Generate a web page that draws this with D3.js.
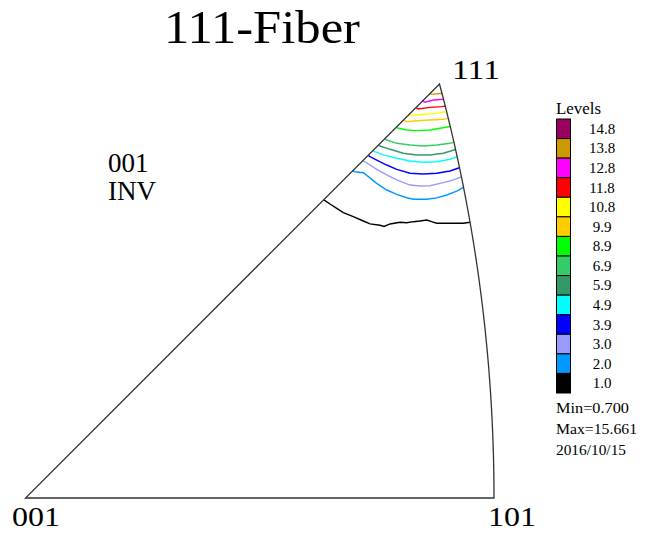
<!DOCTYPE html>
<html><head><meta charset="utf-8">
<script src="https://cdn.jsdelivr.net/npm/d3@7"></script>
<style>body{margin:0;background:#fff} svg{display:block}</style>
</head><body>
<script>
// ---- data ----
const title = "111-Fiber";
const poleLabels = ["001", "101", "111"];
const projectionLabel = ["001", "INV"];
const levels = [14.8, 13.8, 12.8, 11.8, 10.8, 9.9, 8.9, 6.9, 5.9, 4.9, 3.9, 3.0, 2.0, 1.0];
const levelColors = ["#99005f", "#cc9900", "#ff00ff", "#ff0000", "#ffff00", "#ffcc00", "#00ff00",
                     "#33cc66", "#339966", "#00ffff", "#0000ff", "#9999ff", "#0099ff", "#000000"];
const stats = ["Min=0.700", "Max=15.661", "2016/10/15"];

// contour lines, stereographic coordinates [X, Y] of the standard triangle
const c1_0 = [[0.2604,0.2661],[0.2648,0.2629],[0.2692,0.2599],[0.2752,0.2561],[0.2810,0.2523],[0.2898,0.2487],
  [0.2987,0.2449],[0.3046,0.2423],[0.3134,0.2411],[0.3170,0.2401],[0.3223,0.2423],[0.3311,0.2438],[0.3370,0.2434],
  [0.3429,0.2443],[0.3488,0.2449],[0.3547,0.2458],[0.3591,0.2443],[0.3636,0.2429],[0.3753,0.2429],[0.3871,0.2429],
  [0.3930,0.2438],[0.4001,0.2440]];
const c2_0 = [[0.2869,0.2900],[0.2913,0.2885],[0.2987,0.2876],[0.3031,0.2841],[0.3105,0.2782],[0.3194,0.2723],
  [0.3282,0.2685],[0.3370,0.2655],[0.3429,0.2641],[0.3547,0.2641],[0.3636,0.2653],[0.3724,0.2679],[0.3813,0.2714],
  [0.3895,0.2759]];
const c3_0 = [[0.2958,0.2997],[0.3002,0.2973],[0.3046,0.2944],[0.3105,0.2906],[0.3194,0.2856],[0.3282,0.2812],
  [0.3400,0.2767],[0.3488,0.2759],[0.3576,0.2761],[0.3694,0.2788],[0.3783,0.2812],[0.3886,0.2851]];
const c3_9 = [[0.3011,0.3042],[0.3046,0.3018],[0.3105,0.2988],[0.3194,0.2944],[0.3282,0.2906],[0.3400,0.2871],
  [0.3517,0.2865],[0.3636,0.2871],[0.3753,0.2891],[0.3868,0.2931]];
const c4_9 = [[0.3055,0.3081],[0.3090,0.3062],[0.3164,0.3033],[0.3282,0.3004],[0.3400,0.2980],[0.3517,0.2968],
  [0.3636,0.2973],[0.3753,0.2995],[0.3851,0.3028]];
const c5_9 = [[0.3099,0.3130],[0.3134,0.3112],[0.3223,0.3083],[0.3340,0.3048],[0.3459,0.3033],[0.3576,0.3033],
  [0.3694,0.3048],[0.3833,0.3090]];
const c6_9 = [[0.3161,0.3183],[0.3194,0.3165],[0.3282,0.3136],[0.3400,0.3121],[0.3517,0.3112],[0.3636,0.3121],
  [0.3753,0.3136],[0.3824,0.3157]];
const c8_9 = [[0.3267,0.3285],[0.3296,0.3269],[0.3370,0.3254],[0.3459,0.3248],[0.3576,0.3254],[0.3665,0.3269],
  [0.3780,0.3289]];
const c9_9 = [[0.3338,0.3347],[0.3370,0.3327],[0.3459,0.3336],[0.3576,0.3342],[0.3694,0.3348],[0.3771,0.3364]];
const c10_8 = [[0.3382,0.3400],[0.3415,0.3378],[0.3517,0.3393],[0.3636,0.3401],[0.3753,0.3422]];
const c11_8 = [[0.3435,0.3462],[0.3473,0.3439],[0.3576,0.3454],[0.3680,0.3460],[0.3753,0.3470]];
const c12_8 = [[0.3497,0.3515],[0.3532,0.3499],[0.3606,0.3519],[0.3694,0.3525],[0.3745,0.3532]];
const c13_8 = [[0.3559,0.3585],[0.3591,0.3569],[0.3689,0.3578],[0.3736,0.3581]];

const contours = [
  {level: 1.0, pts: c1_0}, {level: 2.0, pts: c2_0}, {level: 3.0, pts: c3_0}, {level: 3.9, pts: c3_9},
  {level: 4.9, pts: c4_9}, {level: 5.9, pts: c5_9}, {level: 6.9, pts: c6_9}, {level: 8.9, pts: c8_9},
  {level: 9.9, pts: c9_9}, {level: 10.8, pts: c10_8}, {level: 11.8, pts: c11_8}, {level: 12.8, pts: c12_8},
  {level: 13.8, pts: c13_8}
];

// ---- layout ----
const W = 655, H = 534;
const serif = "'Liberation Serif','Times New Roman',serif";
const svg = d3.select("body").append("svg").attr("width", W).attr("height", H)
  .style("font-family", serif);

// stereographic triangle: 001 at origin, 101 at tan(22.5deg), 111 at (0.366, 0.366)
const t101 = Math.SQRT2 - 1;
const x = d3.scaleLinear().domain([0, t101]).range([25.5, 494]);
const y = d3.scaleLinear().domain([0, t101]).range([498, 498 - (494 - 25.5)]);
const color = d3.scaleOrdinal().domain(levels).range(levelColors);

// boundary: straight edges plus the 101-111 great circle (centre (-1,0), radius sqrt 2)
const s111 = 1 / Math.sqrt(3) / (1 + 1 / Math.sqrt(3));
const p111 = [s111, s111];
const arcEnd = Math.atan2(p111[1], p111[0] + 1);
const boundary = [[0, 0], [t101, 0]];
d3.range(0, 61).forEach(i => {
  const a = arcEnd * i / 60;
  boundary.push([-1 + Math.SQRT2 * Math.cos(a), Math.SQRT2 * Math.sin(a)]);
});
boundary.push(p111);
const line = d3.line().x(d => x(d[0])).y(d => y(d[1]));

svg.append("clipPath").attr("id", "tri").append("path")
  .attr("d", line(boundary) + "Z");

svg.append("g").attr("clip-path", "url(#tri)")
  .selectAll("path").data(contours).join("path")
  .attr("d", d => line(d.pts))
  .attr("fill", "none")
  .attr("stroke", d => color(d.level))
  .attr("stroke-width", 1.4);

svg.append("path").attr("d", line(boundary) + "Z")
  .attr("fill", "none").attr("stroke", "#333").attr("stroke-width", 1.3);

// title
svg.append("text").attr("x", 164).attr("y", 43).attr("font-size", 46)
  .attr("textLength", 196).attr("lengthAdjust", "spacingAndGlyphs").text(title);

// pole labels
const polePos = [[12, 526], [488, 526], [452, 79]];
svg.selectAll("text.pole").data(poleLabels).join("text").attr("class", "pole")
  .attr("x", (d, i) => polePos[i][0]).attr("y", (d, i) => polePos[i][1])
  .attr("font-size", 27).attr("textLength", 48).attr("lengthAdjust", "spacingAndGlyphs")
  .text(d => d);

svg.selectAll("text.proj").data(projectionLabel).join("text").attr("class", "proj")
  .attr("x", 108).attr("y", (d, i) => 172 + i * 28)
  .attr("font-size", 27).text(d => d);

// legend
const lg = svg.append("g");
lg.append("text").attr("x", 556).attr("y", 114).attr("font-size", 16)
  .attr("textLength", 45).attr("lengthAdjust", "spacingAndGlyphs").text("Levels");
const sy = d3.scaleBand().domain(levels).range([119, 393]);
lg.selectAll("rect").data(levels).join("rect")
  .attr("x", 556.5).attr("y", d => sy(d)).attr("width", 14).attr("height", sy.bandwidth())
  .attr("fill", d => color(d)).attr("stroke", "#000").attr("stroke-width", 1);
lg.selectAll("text.lv").data(levels).join("text").attr("class", "lv")
  .attr("x", 602).attr("y", d => sy(d) + sy.bandwidth() / 2 + 5)
  .attr("text-anchor", "middle").attr("font-size", 15).text(d => d3.format(".1f")(d));
const statLen = [73, 81, 70];
lg.selectAll("text.st").data(stats).join("text").attr("class", "st")
  .attr("x", 556).attr("y", (d, i) => 413 + i * 21).attr("font-size", 15.5)
  .attr("textLength", (d, i) => statLen[i]).attr("lengthAdjust", "spacingAndGlyphs")
  .text(d => d);
</script>
</body></html>
